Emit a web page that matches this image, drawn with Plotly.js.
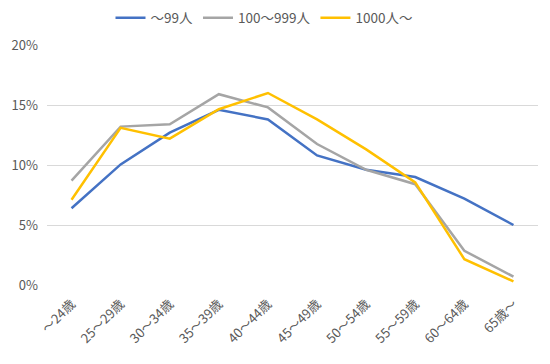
<!DOCTYPE html>
<html>
<head>
<meta charset="utf-8">
<script src="https://cdn.plot.ly/plotly-3.0.1.min.js"></script>
<style>html,body{margin:0;padding:0;background:#fff;}#chart{width:550px;height:364px;}</style>
</head>
<body>
<div id="chart"></div>
<script>
const categories = ["～24歳","25～29歳","30～34歳","35～39歳","40～44歳","45～49歳","50～54歳","55～59歳","60～64歳","65歳～"];
const seriesNames = ["～99人","100～999人","1000人～"];
const small = [6.4, 10.05, 12.7, 14.6, 13.8, 10.8, 9.6, 9.0, 7.2, 5.0];
const medium = [8.7, 13.2, 13.4, 15.9, 14.8, 11.75, 9.6, 8.4, 2.85, 0.7];
const large = [7.1, 13.1, 12.2, 14.65, 16.0, 13.8, 11.3, 8.55, 2.15, 0.3];
const colors = ["#4472C4","#A5A5A5","#FFC000"];
const yTickVals = [0,5,10,15,20];
const yTickText = ["0%","5%","10%","15%","20%"];

const font = "'Noto Sans CJK JP', 'Noto Sans', sans-serif";
const data = [small, medium, large].map((vals, i) => ({
  type: "scatter", mode: "lines", x: categories, y: vals, name: seriesNames[i],
  line: {color: colors[i], width: 2.5}
}));
const layout = {
  width: 550, height: 364,
  margin: {l: 47, r: 12, t: 45, b: 79},
  paper_bgcolor: "#fff", plot_bgcolor: "#fff",
  font: {family: font, color: "#595959", size: 13},
  showlegend: true,
  legend: {orientation: "h", x: 0.48, xanchor: "center", xref: "container",
           y: 1 - 18 / 364, yanchor: "middle", yref: "container",
           font: {size: 13.5, color: "#595959"}, itemwidth: 30, tracegroupgap: 0},
  xaxis: {type: "category", range: [-0.5, 9.5], automargin: false, tickangle: -45,
          showgrid: false, zeroline: false, showline: false, ticks: "",
          ticklabelstandoff: 8, tickfont: {size: 13, color: "#595959"}},
  yaxis: {range: [0, 20], automargin: false, tickvals: yTickVals, ticktext: yTickText,
          showgrid: true, gridcolor: "#D9D9D9", gridwidth: 1, zeroline: false,
          showline: false, ticks: "", ticklabelstandoff: 8,
          tickfont: {size: 13, color: "#595959"}}
};
Plotly.newPlot("chart", data, layout, {displayModeBar: false, staticPlot: true});
</script>
</body>
</html>
